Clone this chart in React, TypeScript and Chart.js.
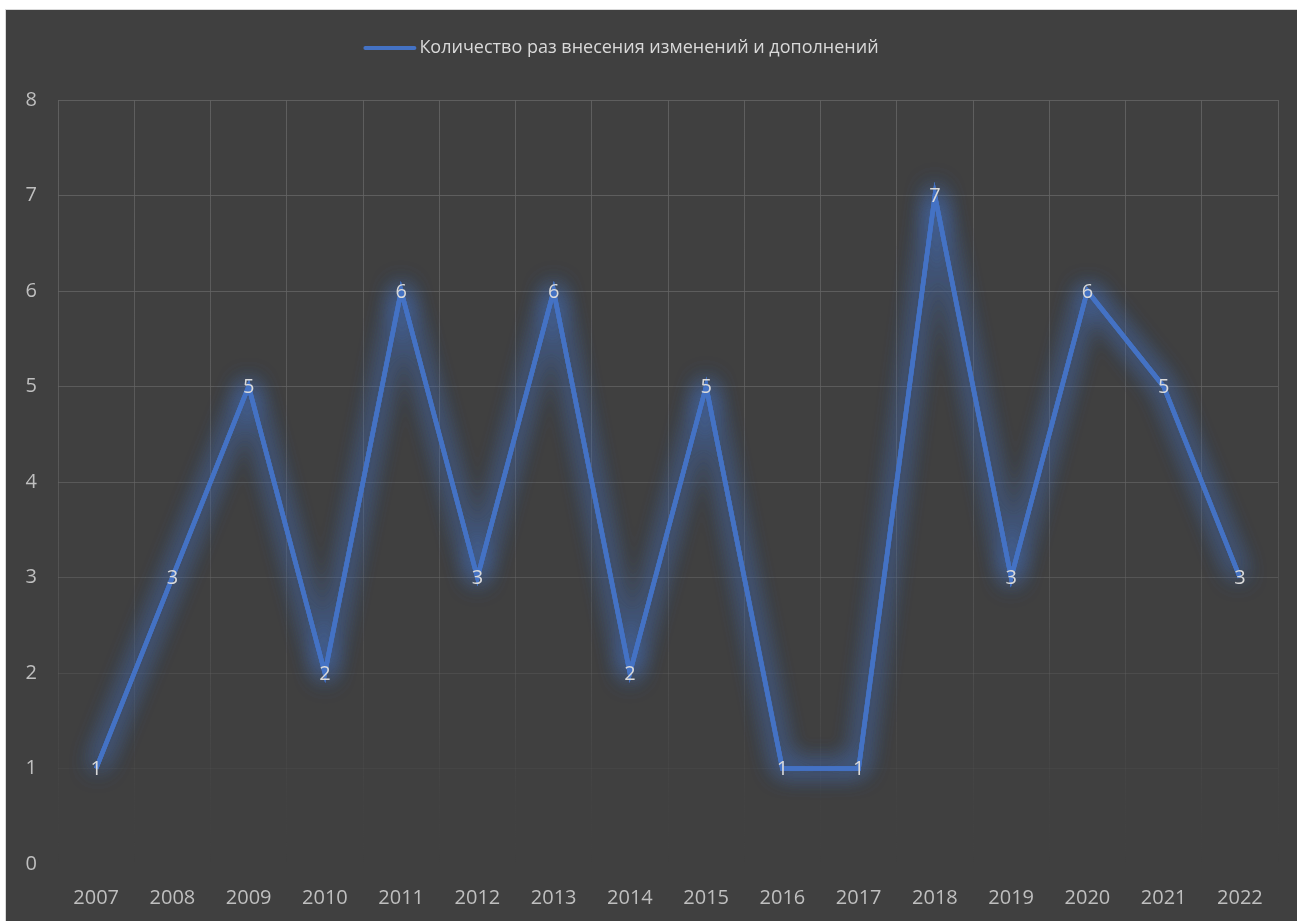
import React, { useEffect, useRef } from "react";
import { Chart, registerables } from "chart.js";

Chart.register(...registerables);

const years = ["2007", "2008", "2009", "2010", "2011", "2012", "2013", "2014", "2015", "2016", "2017", "2018", "2019", "2020", "2021", "2022"];
const changes = [1, 3, 5, 2, 6, 3, 6, 2, 5, 1, 1, 7, 3, 6, 5, 3];
const seriesName = "Количество раз внесения изменений и дополнений";
const yTicks = [0, 1, 2, 3, 4, 5, 6, 7, 8];

const FONT = "'Open Sans', 'Noto Sans', sans-serif";
const LINE_COLOR = "#4472C4";
const TEXT_COLOR = "#BFBFBF";
const LABEL_COLOR = "#D9D9D9";
const BG = "#404040";

let glowing = false;
const glowPlugin = {
  id: "glow",
  beforeDatasetDraw(chart: any, args: any) {
    const ctx = chart.ctx;
    ctx.save();
    ctx.shadowColor = "rgba(68,114,196,0.9)";
    ctx.shadowBlur = 24;
    if (!glowing) {
      glowing = true;
      const meta = args.meta;
      meta.dataset.draw(ctx, chart.chartArea);
      meta.dataset.draw(ctx, chart.chartArea);
      glowing = false;
    }
  },
  afterDatasetDraw(chart: any) {
    chart.ctx.restore();
  },
};

const labelPlugin = {
  id: "pointLabels",
  afterDatasetsDraw(chart: any) {
    const ctx = chart.ctx;
    const meta = chart.getDatasetMeta(0);
    const data = chart.data.datasets[0].data;
    ctx.save();
    ctx.font = `20px ${FONT}`;
    ctx.fillStyle = LABEL_COLOR;
    ctx.textAlign = "center";
    ctx.textBaseline = "middle";
    meta.data.forEach((pt: any, i: number) => {
      ctx.fillText(String(data[i]), pt.x, pt.y + 1);
    });
    ctx.restore();
  },
};

const legendPlugin = {
  id: "customLegend",
  afterDraw(chart: any) {
    const ctx = chart.ctx;
    ctx.save();
    ctx.font = `18px ${FONT}`;
    const tw = ctx.measureText(seriesName).width;
    const lineW = 49;
    const gap = 5;
    const total = lineW + gap + tw;
    const cx = 616;
    const x0 = cx - total / 2;
    const y = 38;
    ctx.strokeStyle = LINE_COLOR;
    ctx.lineWidth = 4;
    ctx.lineCap = "round";
    ctx.beginPath();
    ctx.moveTo(x0, y);
    ctx.lineTo(x0 + lineW, y);
    ctx.stroke();
    ctx.fillStyle = LABEL_COLOR;
    ctx.textBaseline = "middle";
    ctx.textAlign = "left";
    ctx.fillText(seriesName, x0 + lineW + gap, y);
    ctx.restore();
  },
};

export default function App() {
  const ref = useRef<HTMLCanvasElement>(null);

  useEffect(() => {
    const canvas = ref.current!;
    let grad: any = null;
    const vGridColor = (c: any) => {
      const chart = c.chart;
      const area = chart.chartArea;
      if (!area) return "#595959";
      if (!grad) {
        grad = chart.ctx.createLinearGradient(0, area.top, 0, area.bottom);
        grad.addColorStop(0, "rgba(100,100,100,0.85)");
        grad.addColorStop(0.45, "rgba(100,100,100,0.7)");
        grad.addColorStop(0.75, "rgba(100,100,100,0.35)");
        grad.addColorStop(0.92, "rgba(100,100,100,0.05)");
        grad.addColorStop(1, "rgba(100,100,100,0)");
      }
      return grad;
    };
    const hAlpha: Record<number, number> = { 0: 0, 1: 0.15, 2: 0.35, 3: 0.6, 4: 0.7, 5: 0.75, 6: 0.8, 7: 0.85, 8: 0.85 };
    const chart = new Chart(canvas, {
      type: "line",
      data: {
        labels: years,
        datasets: [
          {
            label: seriesName,
            data: changes,
            borderColor: LINE_COLOR,
            backgroundColor: LINE_COLOR,
            borderWidth: 4.5,
            borderJoinStyle: "miter",
            pointRadius: 0,
            pointHoverRadius: 0,
            tension: 0,
            fill: false,
          },
        ],
      },
      options: {
        responsive: false,
        animation: false,
        events: [],
        layout: { padding: { top: 90, right: 19, left: 0, bottom: 0 } },
        plugins: {
          legend: { display: false },
          tooltip: { enabled: false },
          title: { display: false },
        },
        scales: {
          x: {
            type: "category",
            offset: true,
            grid: {
              offset: true,
              drawTicks: false,
              color: vGridColor,
              lineWidth: 1,
            },
            border: { display: false },
            ticks: {
              color: TEXT_COLOR,
              font: { family: FONT, size: 20 },
              padding: 22,
              maxRotation: 0,
              autoSkip: false,
            },
            afterFit(scale: any) {
              scale.height = 57;
            },
          },
          y: {
            min: 0,
            max: 8,
            afterBuildTicks(scale: any) {
              scale.ticks = yTicks.map((v) => ({ value: v }));
            },
            grid: {
              drawTicks: false,
              color: (c: any) => {
                const v = c.tick ? c.tick.value : 0;
                const a = hAlpha[v] ?? 0.8;
                return `rgba(100,100,100,${a})`;
              },
              lineWidth: 1,
            },
            border: { display: false },
            ticks: {
              color: TEXT_COLOR,
              font: { family: FONT, size: 20 },
              padding: 21,
              stepSize: 1,
            },
            afterFit(scale: any) {
              scale.width = 52;
            },
          },
        },
      },
      plugins: [glowPlugin, labelPlugin, legendPlugin],
    } as any);
    return () => chart.destroy();
  }, []);

  return (
    <div
      style={{
        position: "fixed",
        left: 0,
        top: 0,
        width: 1297,
        height: 921,
        background: "#ffffff",
        overflow: "hidden",
      }}
    >
      <div
        style={{
          position: "absolute",
          left: 5,
          top: 9,
          width: 1292,
          height: 912,
          borderLeft: "1px solid #d9d9d9",
          borderTop: "1px solid #d9d9d9",
          background: BG,
        }}
      >
        <canvas ref={ref} width={1291} height={911} style={{ display: "block" }} />
      </div>
    </div>
  );
}
